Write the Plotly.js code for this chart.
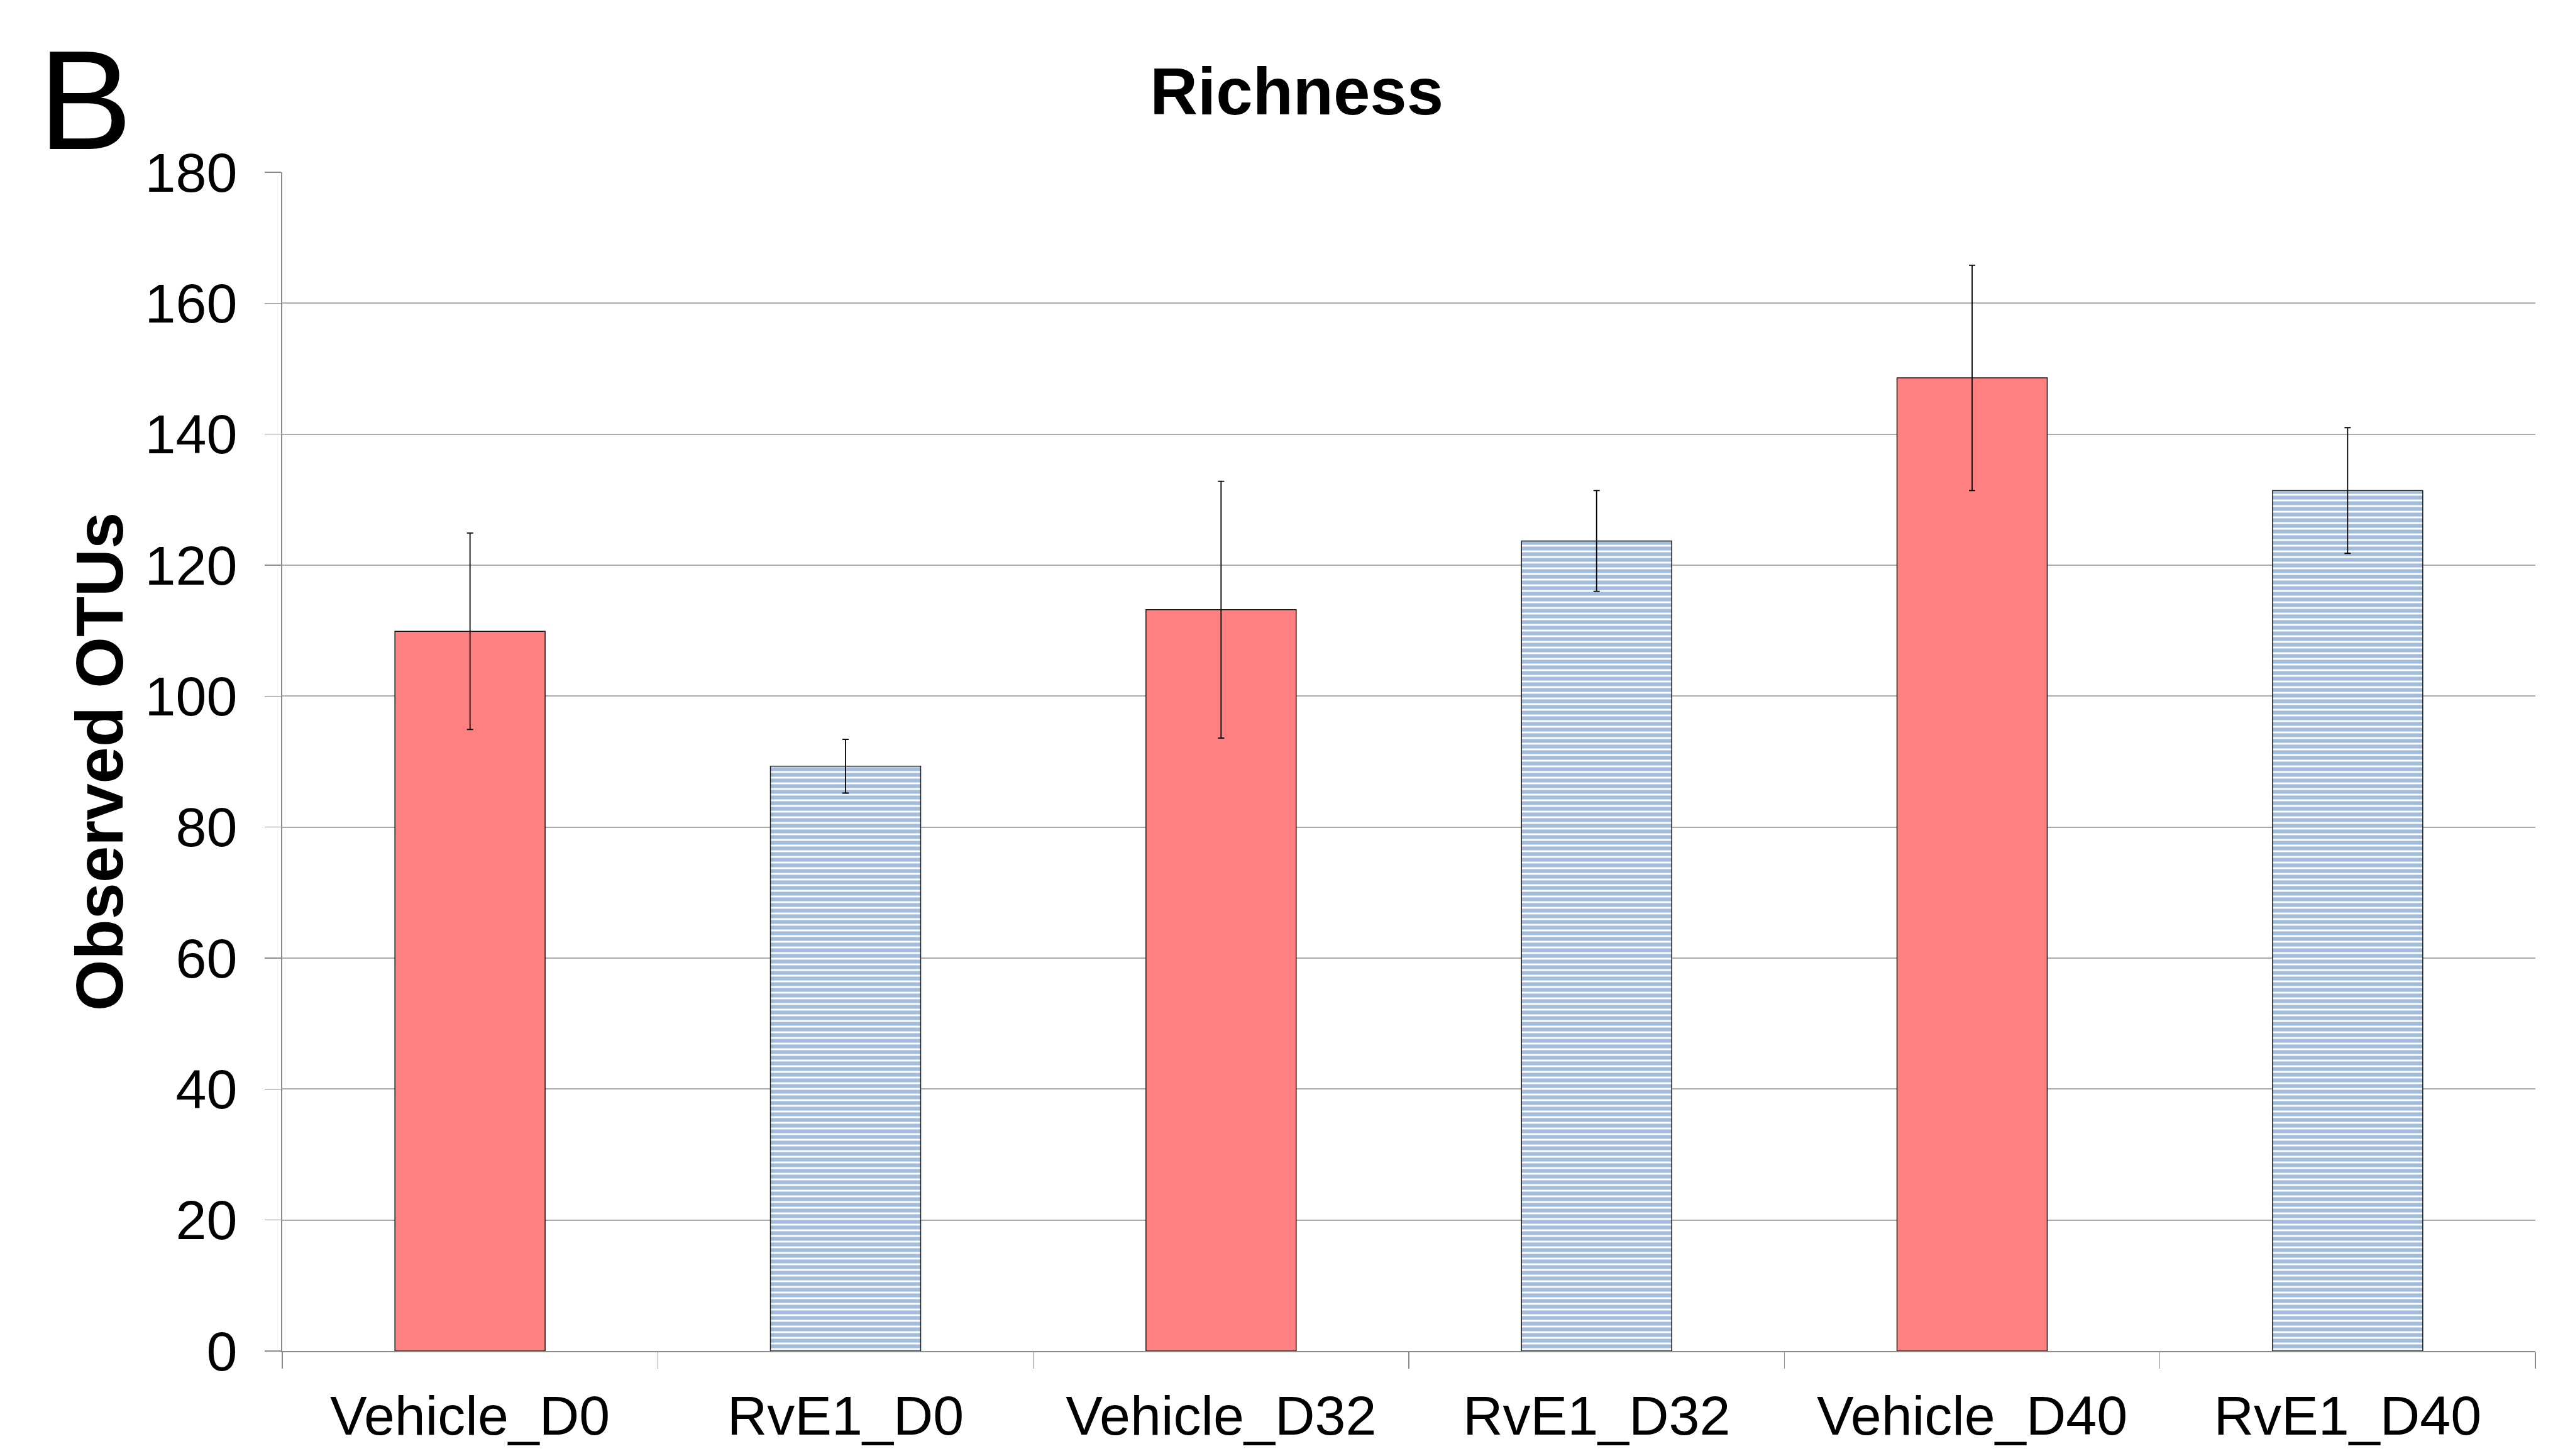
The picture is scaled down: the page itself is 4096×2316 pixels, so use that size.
<!DOCTYPE html>
<html>
<head>
<meta charset="utf-8">
<script src="https://cdn.plot.ly/plotly-3.0.1.min.js"></script>
<style>
  html, body { margin: 0; padding: 0; background: #ffffff; }
  #chart { width: 4096px; height: 2316px; }
</style>
</head>
<body>
<div id="chart"></div>
<script>
// Observed OTUs (richness) per group, mean ± error
const categories = ['Vehicle_D0', 'RvE1_D0', 'Vehicle_D32', 'RvE1_D32', 'Vehicle_D40', 'RvE1_D40'];

const vehicleGroups = ['Vehicle_D0', 'Vehicle_D32', 'Vehicle_D40'];
const vehicleOTUs   = [109.9, 113.2, 148.6];
const vehicleErr    = [15.0, 19.6, 17.2];

const rve1Groups = ['RvE1_D0', 'RvE1_D32', 'RvE1_D40'];
const rve1OTUs   = [89.3, 123.7, 131.4];
const rve1Err    = [4.1, 7.7, 9.6];

const yTicks = [0, 20, 40, 60, 80, 100, 120, 140, 160, 180];

const FONT = 'Liberation Sans, Arial, Helvetica, sans-serif';
const W = 4096, H = 2316;
const margin = { l: 449, r: 63, t: 274, b: 167 };
const plotW = W - margin.l - margin.r;
const plotH = H - margin.t - margin.b;

// convert page pixel positions to paper coordinates for the panel letter
const px2paperX = px => (px - margin.l) / plotW;
const px2paperY = py => (H - margin.b - py) / plotH;

const errStyle = { type: 'data', visible: true, color: '#000000', thickness: 1.8, width: 5 };
const outline = { color: '#1a1a1a', width: 1.5 };

const traces = [
  {
    type: 'bar',
    name: 'Vehicle',
    x: vehicleGroups,
    y: vehicleOTUs,
    width: 0.4,
    marker: { color: 'rgb(255,128,128)', line: outline },
    error_y: Object.assign({ array: vehicleErr }, errStyle),
    hoverinfo: 'x+y'
  },
  {
    type: 'bar',
    name: 'RvE1',
    x: rve1Groups,
    y: rve1OTUs,
    width: 0.4,
    marker: {
      color: '#ffffff',
      line: outline,
      pattern: { shape: '-', fgcolor: '#4679B8', bgcolor: '#ffffff', size: 9, solidity: 0.68, fillmode: 'overlay' }
    },
    error_y: Object.assign({ array: rve1Err }, errStyle),
    hoverinfo: 'x+y'
  }
];

const layout = {
  width: W,
  height: H,
  margin: margin,
  paper_bgcolor: '#ffffff',
  plot_bgcolor: '#ffffff',
  showlegend: false,
  barmode: 'overlay',
  font: { family: FONT, color: '#000000', size: 88 },
  title: {
    text: '<b>Richness</b>',
    font: { family: FONT, size: 105, color: '#000000' },
    xref: 'container', x: 0.5036,
    yref: 'container', y: 1 - 145 / H, yanchor: 'middle', xanchor: 'center'
  },
  xaxis: {
    type: 'category',
    categoryorder: 'array',
    categoryarray: categories,
    range: [-0.5, 5.5],
    tickson: 'boundaries',
    ticks: 'outside',
    ticklen: 26,
    tickwidth: 1.6,
    tickcolor: '#8c8c8c',
    showline: true,
    linecolor: '#8c8c8c',
    linewidth: 2,
    showgrid: false,
    zeroline: false,
    tickfont: { family: FONT, size: 88, color: '#000000' },
    ticklabelstandoff: 25,
    fixedrange: true
  },
  yaxis: {
    range: [0, 180],
    tickmode: 'array',
    tickvals: yTicks,
    ticktext: yTicks.map(String),
    ticks: 'outside',
    ticklen: 26,
    tickwidth: 1.6,
    tickcolor: '#8c8c8c',
    showline: true,
    linecolor: '#8c8c8c',
    linewidth: 2,
    showgrid: true,
    gridcolor: '#ababab',
    gridwidth: 2,
    zeroline: false,
    tickfont: { family: FONT, size: 88, color: '#000000' },
    ticklabelstandoff: 26,
    title: {
      text: '<b>Observed OTUs</b>',
      font: { family: FONT, size: 105, color: '#000000' },
      standoff: 0
    },
    fixedrange: true
  },
  annotations: [
    {
      text: 'B',
      xref: 'paper', yref: 'paper',
      x: px2paperX(59), y: px2paperY(286),
      xanchor: 'left', yanchor: 'bottom',
      height: 250, valign: 'bottom',
      showarrow: false,
      font: { family: FONT, size: 224, color: '#000000' }
    }
  ]
};

Plotly.newPlot('chart', traces, layout, { displayModeBar: false, staticPlot: true });
</script>
</body>
</html>
